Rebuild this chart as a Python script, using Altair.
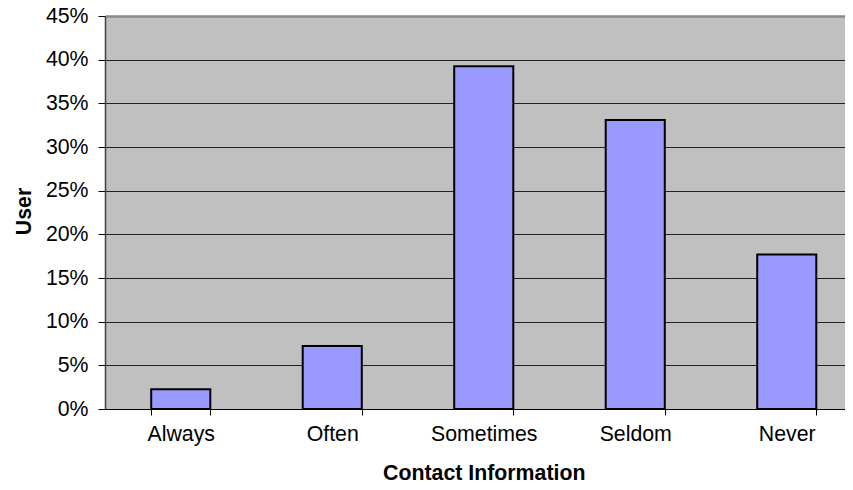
import altair as alt
import pandas as pd

categories = ["Always", "Often", "Sometimes", "Seldom", "Never"]
values = [0.0225, 0.0722, 0.3925, 0.3310, 0.1770]
y_ticks = [0, 0.05, 0.10, 0.15, 0.20, 0.25, 0.30, 0.35, 0.40, 0.45]

df = pd.DataFrame({"cat": categories, "val": values})

FONT = "Liberation Sans"

chart = alt.Chart(df).mark_bar(
    color="#9999FF", stroke="black", strokeWidth=2
).encode(
    x=alt.X(
        "cat:N",
        sort=categories,
        scale=alt.Scale(range=[0, 757.5], paddingInner=0.61, paddingOuter=0.305),
        axis=alt.Axis(
            title="Contact Information",
            labelAngle=0,
            tickBand="extent",
            tickSize=6,
            tickColor="black",
            domainColor="black",
            domainWidth=1,
            labelFontSize=21.3,
            labelFont=FONT,
            labelColor="black",
            labelBaseline="alphabetic",
            labelPadding=25.5,
            titleFont=FONT,
            titleFontSize=21.3,
            titleFontWeight="bold",
            titleColor="black",
            titleBaseline="alphabetic",
            titleY=70,
            grid=False,
        ),
    ),
    y=alt.Y(
        "val:Q",
        scale=alt.Scale(domain=[0, 0.45], nice=False),
        axis=alt.Axis(
            title="User",
            values=y_ticks,
            format=".0%",
            tickSize=7,
            tickColor="black",
            domainColor="#404040",
            domainWidth=1.5,
            labelFontSize=21.3,
            labelFont=FONT,
            labelColor="black",
            labelPadding=10,
            titleFont=FONT,
            titleFontSize=21.3,
            titleFontWeight="bold",
            titleColor="black",
            titleAngle=270,
            titleBaseline="alphabetic",
            titleAlign="center",
            titleX=-75,
            titleY=195,
            grid=True,
            gridColor={"condition": {"test": "datum.value >= 0.449", "value": "#8a8a8a"}, "value": "#222222"},
            gridWidth={"condition": {"test": "datum.value >= 0.449", "value": 2.5}, "value": 1},
        ),
    ),
).properties(
    width=740,
    height=393,
    autosize=alt.AutoSizeParams(type="none"),
    padding={"left": 97, "top": 8, "right": 0, "bottom": 73},
).configure_view(
    fill="#C0C0C0",
    stroke=None,
)

chart.save("out.html", embed_options={"renderer": "svg", "actions": False})
